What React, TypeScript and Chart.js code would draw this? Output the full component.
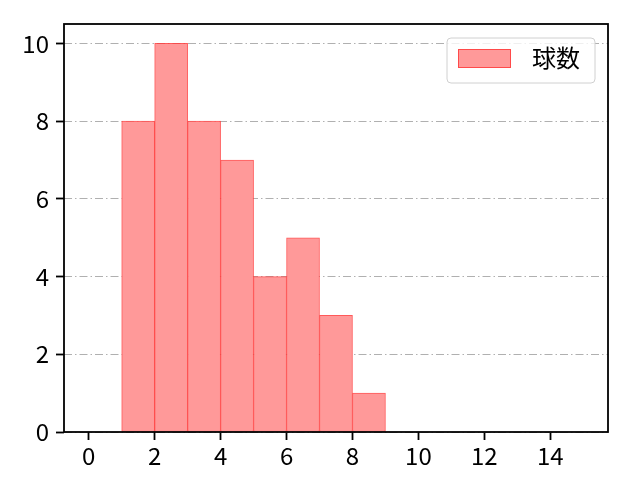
import React, { useEffect, useRef } from "react";
import { Chart, registerables } from "chart.js";

Chart.register(...registerables);

const binCenters = [1.5, 2.5, 3.5, 4.5, 5.5, 6.5, 7.5, 8.5];
const counts = [8, 10, 8, 7, 4, 5, 3, 1];
const xTicks = [0, 2, 4, 6, 8, 10, 12, 14];
const yTicks = [0, 2, 4, 6, 8, 10];
const seriesLabel = "球数";

const FONT = "'Noto Sans CJK JP', 'Noto Sans', sans-serif";
const FILL = "#ff9999";
const EDGE = "rgba(255, 60, 60, 0.85)";

const frameLegend = {
  id: "frameLegend",
  afterDraw(chart: any) {
    const { ctx, chartArea } = chart;
    ctx.save();
    ctx.strokeStyle = "#000";
    ctx.lineWidth = 1.8;
    ctx.strokeRect(
      chartArea.left,
      chartArea.top,
      chartArea.right - chartArea.left,
      chartArea.bottom - chartArea.top
    );
    // legend
    const lx = 447, ly = 38, lw = 148, lh = 45, r = 4;
    ctx.beginPath();
    ctx.moveTo(lx + r, ly);
    ctx.lineTo(lx + lw - r, ly);
    ctx.quadraticCurveTo(lx + lw, ly, lx + lw, ly + r);
    ctx.lineTo(lx + lw, ly + lh - r);
    ctx.quadraticCurveTo(lx + lw, ly + lh, lx + lw - r, ly + lh);
    ctx.lineTo(lx + r, ly + lh);
    ctx.quadraticCurveTo(lx, ly + lh, lx, ly + lh - r);
    ctx.lineTo(lx, ly + r);
    ctx.quadraticCurveTo(lx, ly, lx + r, ly);
    ctx.closePath();
    ctx.fillStyle = "rgba(255,255,255,0.8)";
    ctx.fill();
    ctx.strokeStyle = "#d0d0d0";
    ctx.lineWidth = 1;
    ctx.stroke();
    ctx.fillStyle = FILL;
    ctx.fillRect(458, 49, 53, 19);
    ctx.strokeStyle = EDGE;
    ctx.strokeRect(458.5, 49.5, 52, 18);
    ctx.fillStyle = "#000";
    ctx.font = `24px ${FONT}`;
    ctx.textBaseline = "middle";
    ctx.textAlign = "left";
    ctx.fillText(seriesLabel, 532, 58);
    ctx.restore();
  },
};

export default function App() {
  const ref = useRef<HTMLCanvasElement | null>(null);
  useEffect(() => {
    document.body.style.margin = "0";
    const canvas = ref.current;
    if (!canvas) return;
    const chart = new Chart(canvas, {
      type: "bar",
      data: {
        datasets: [
          {
            label: seriesLabel,
            data: binCenters.map((x, i) => ({ x, y: counts[i] })),
            backgroundColor: FILL,
            borderColor: EDGE,
            borderWidth: 1,
            borderSkipped: false,
            barPercentage: 1,
            categoryPercentage: 1,
          },
        ],
      },
      options: {
        animation: false,
        responsive: false,
        maintainAspectRatio: false,
        devicePixelRatio: 1,
        layout: { padding: { left: 0, top: 24, right: 32, bottom: 0 } },
        plugins: { legend: { display: false }, tooltip: { enabled: false } },
        scales: {
          x: {
            type: "linear",
            offset: false,
            min: -0.75,
            max: 15.75,
            afterBuildTicks: (s: any) => {
              s.ticks = xTicks.map((v) => ({ value: v }));
            },
            afterFit: (s: any) => {
              s.height = 48;
            },
            grid: {
              offset: false,
              drawOnChartArea: false,
              drawTicks: true,
              tickLength: 8,
              tickWidth: 1.8,
              tickColor: "#000",
              color: "#000",
            },
            border: { display: false },
            ticks: {
              color: "#000",
              font: { family: FONT, size: 24 },
              padding: 1,
              maxRotation: 0,
            },
          },
          y: {
            type: "linear",
            min: 0,
            max: 10.5,
            afterBuildTicks: (s: any) => {
              s.ticks = yTicks.map((v) => ({ value: v }));
            },
            afterFit: (s: any) => {
              s.width = 64;
            },
            grid: {
              drawOnChartArea: true,
              drawTicks: true,
              tickLength: 8,
              tickWidth: 1.8,
              tickColor: "#000",
              tickBorderDash: [],
              color: "#b0b0b0",
              lineWidth: 1,
            },
            border: { display: false, dash: [8, 3, 1.5, 3] },
            ticks: {
              color: "#000",
              font: { family: FONT, size: 24 },
              padding: 7,
            },
          },
        },
      },
      plugins: [frameLegend],
    } as any);
    return () => chart.destroy();
  }, []);
  return (
    <div style={{ position: "absolute", left: 0, top: 0, width: 640, height: 480 }}>
      <canvas ref={ref} width={640} height={480} style={{ width: 640, height: 480 }} />
    </div>
  );
}
